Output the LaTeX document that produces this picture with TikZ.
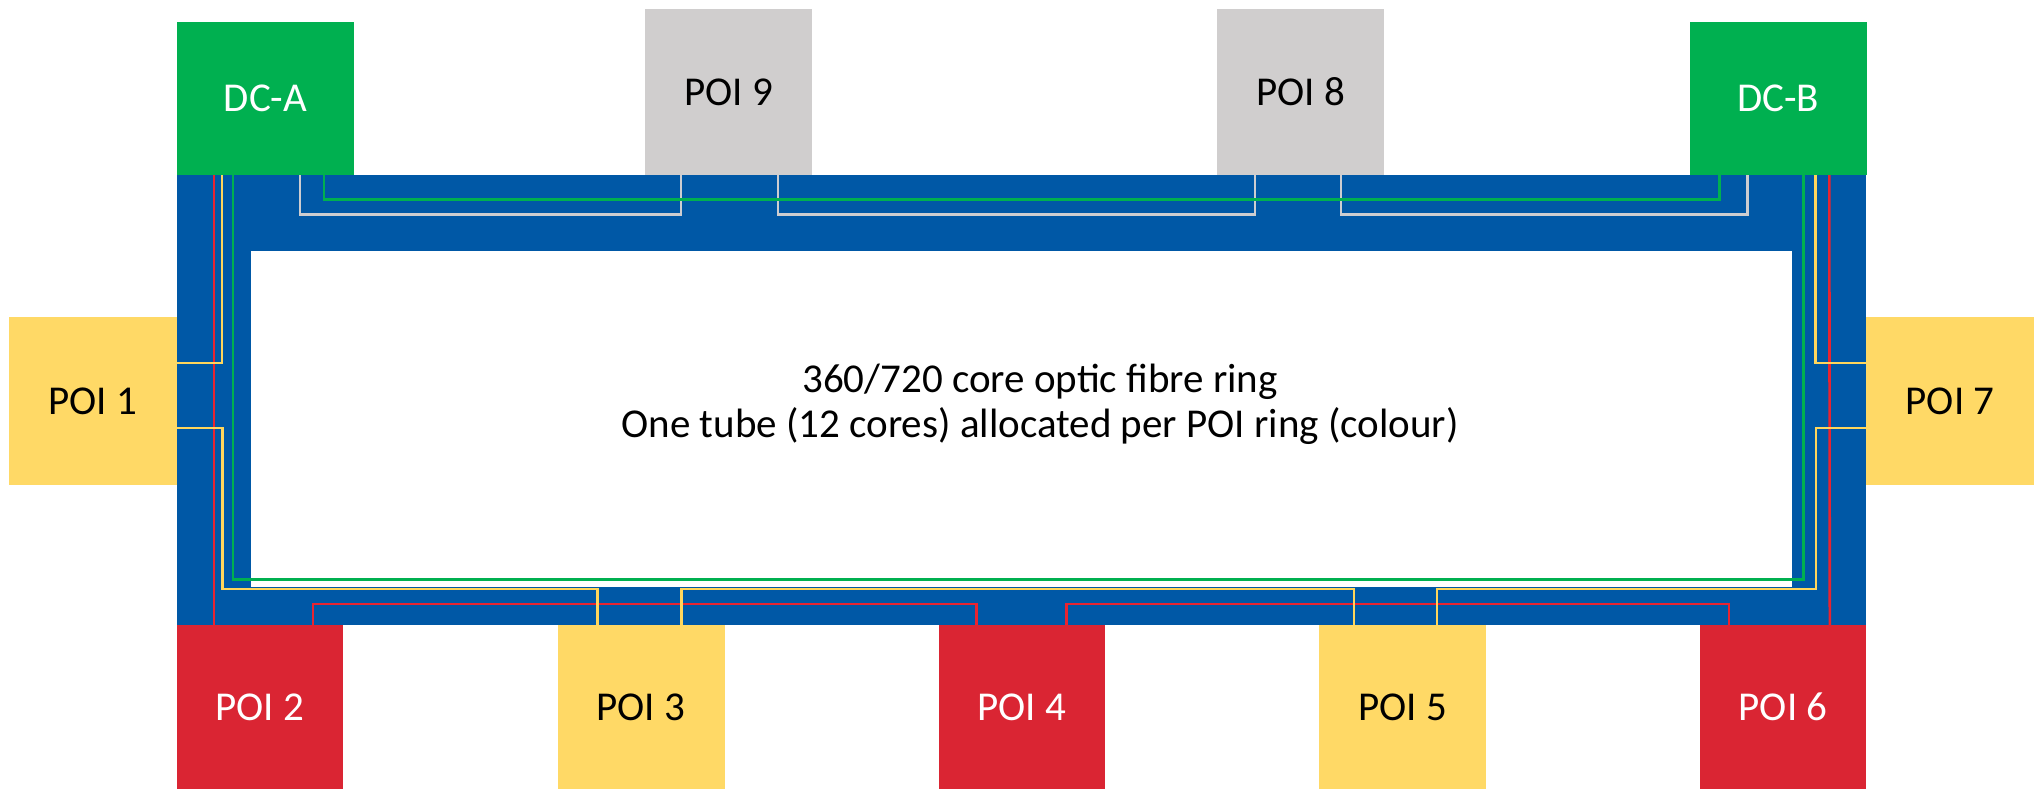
\documentclass[tikz,border=0pt]{standalone}
\usepackage{fontspec}
\setmainfont{Carlito}
\usetikzlibrary{positioning}
\definecolor{ringblue}{RGB}{0,88,166}
\definecolor{dcgreen}{RGB}{0,176,80}
\definecolor{poigray}{RGB}{208,206,206}
\definecolor{poiyellow}{RGB}{255,217,102}
\definecolor{poired}{RGB}{218,37,51}
\definecolor{fibregray}{RGB}{205,205,208}
\definecolor{fibreyellow}{RGB}{255,214,92}
\definecolor{fibrered}{RGB}{232,36,48}
\definecolor{fibregreen}{RGB}{0,176,80}

\begin{document}
\begin{tikzpicture}[x=1pt,y=-1pt,
    site/.style={inner sep=0pt,font=\fontsize{41}{46}\selectfont,text=black},
    dcbox/.style={site,fill=dcgreen,text=white,minimum width=177pt,minimum height=153pt},
    graybox/.style={site,fill=poigray,minimum width=167pt,minimum height=166pt},
    sidebox/.style={site,fill=poiyellow,minimum width=168pt,minimum height=168pt},
    redbox/.style={site,fill=poired,text=white,minimum width=166pt,minimum height=164pt},
    yellowbox/.style={site,fill=poiyellow,minimum width=167pt,minimum height=164pt},
    fibre/.style={line width=2.6pt,line join=miter}]
    \useasboundingbox (0,0) rectangle (2038,789);
    \node[fill=ringblue,inner sep=0pt,minimum width=1689pt,minimum height=450pt] (ring) at (1021.5,400) {};
    \node[fill=white,inner sep=0pt,minimum width=1541pt,minimum height=336pt] (core) at (1021.5,419) {};
    \node[align=center,font=\fontsize{41}{45}\selectfont] (label) at (1040,404) {360/720 core optic fibre ring\\One tube (12 cores) allocated per POI ring (colour)};
    \node[dcbox] (dca) at (265.5,98.5) {DC-A};
    \node[graybox] (poi9) at (728.5,92) {POI 9};
    \node[graybox] (poi8) at (1300.5,92) {POI 8};
    \node[dcbox] (dcb) at (1778,98.5) {DC-B};
    \node[sidebox] (poi1) at (93,401) {POI 1};
    \node[sidebox] (poi7) at (1950,401) {POI 7};
    \node[redbox] (poi2) at (260,707) {POI 2};
    \node[yellowbox] (poi3) at (641,707) {POI 3};
    \node[redbox] (poi4) at (1021.5,707) {POI 4};
    \node[yellowbox] (poi5) at (1402.5,707) {POI 5};
    \node[redbox] (poi6) at (1783,707) {POI 6};
    \draw[fibre,fibregray] ([xshift=123pt]dca.south west) -- ++(0,39) -| ([xshift=36pt]poi9.south west);
    \draw[fibre,fibregray] ([xshift=133pt]poi9.south west) -- ++(0,39) -| ([xshift=38pt]poi8.south west);
    \draw[fibre,fibregray] ([xshift=124pt]poi8.south west) -- ++(0,39) -| ([xshift=58pt]dcb.south west);
    \draw[fibre,fibregreen] ([xshift=147pt]dca.south west) -- ++(0,24) -| ([xshift=30pt]dcb.south west);
    \draw[fibre,fibregreen] ([xshift=56pt]dca.south west) -- ++(0,404) -| ([xshift=114pt]dcb.south west);
    \draw[fibre,fibrered] ([xshift=37pt]dca.south west) -- ([xshift=37pt]poi2.north west);
    \draw[fibre,fibrered] ([xshift=140pt]dcb.south west) -- ([xshift=130pt]poi6.north west);
    \draw[fibre,fibrered] ([xshift=136pt]poi2.north west) -- ++(0,-21) -| ([xshift=38pt]poi4.north west);
    \draw[fibre,fibrered] ([xshift=128pt]poi4.north west) -- ++(0,-21) -| ([xshift=29pt]poi6.north west);
    \draw[fibre,fibreyellow] ([xshift=45pt]dca.south west) |- ([yshift=-46pt]poi1.north east);
    \draw[fibre,fibreyellow] ([yshift=-111pt]poi1.north east) -- ++(45,0) -- ++(0,161) -| ([xshift=40pt]poi3.north west);
    \draw[fibre,fibreyellow] ([xshift=124pt]poi3.north west) -- ++(0,-36) -| ([xshift=35pt]poi5.north west);
    \draw[fibre,fibreyellow] ([xshift=118pt]poi5.north west) -- ++(0,-36) -- ++(379,0) |- ([yshift=-111pt]poi7.north west);
    \draw[fibre,fibreyellow] ([xshift=126pt]dcb.south west) |- ([yshift=-46pt]poi7.north west);
\end{tikzpicture}
\end{document}
